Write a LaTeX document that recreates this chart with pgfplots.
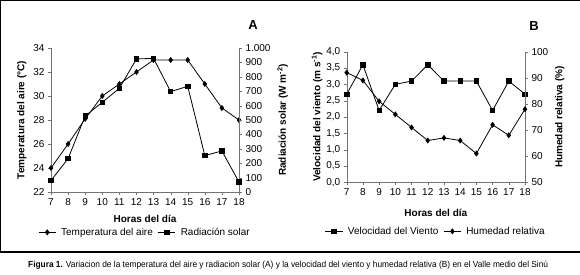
\documentclass[border=0pt]{standalone}
\usepackage{pgfplots}
\pgfplotsset{compat=1.18}
\usepackage{fontspec}
\setmainfont{Liberation Sans}
\usepackage{graphicx}

\pgfplotsset{
  panel/.style={
    scale only axis,
    xmin=7, xmax=18, xtick={7,...,18},
    tick align=outside, major tick length=3pt,
    axis line style={black!55}, tick style={black!55},
    tick label style={font=\fontsize{10}{12}\selectfont},
    label style={font=\fontsize{10}{12}\selectfont\bfseries},
    /pgf/number format/assume math mode=true,
  },
  linea/.style={black, line width=0.8pt},
  rombo/.style={linea, mark=diamond*, mark size=2.4pt, mark options={solid, fill=black}},
  cuadro/.style={linea, mark=square*, mark size=2.2pt, mark options={solid, fill=black}},
}

\begin{document}
\begin{tikzpicture}
\useasboundingbox (0,0) rectangle (580pt,-275pt);
\draw[line width=1.3pt] (580pt,-0.6pt) -- (0.6pt,-0.6pt) -- (0.6pt,-252pt) -- (580pt,-252pt);

% ---- panel A
\begin{axis}[panel, at={(51pt,-192pt)}, anchor=south west,
  width=188pt, height=144pt,
  axis x line*=bottom, axis y line*=left,
  ymin=22, ymax=34, ytick={22,24,...,34},
  xlabel={Horas del día}, ylabel={Temperatura del aire (°C)},
  xlabel style={yshift=-3pt},
  legend style={at={(0.5,-0.22)}, anchor=north, draw=none, legend columns=2,
    font=\fontsize{10}{12}\selectfont, column sep=3pt},
]
\addplot[rombo] coordinates {(7,24) (8,26) (9,28.1) (10,30) (11,31) (12,32) (13,33) (14,33) (15,33) (16,31) (17,29) (18,28)};
\addlegendentry{Temperatura del aire}
\addlegendimage{cuadro}
\addlegendentry{Radiación solar}
\end{axis}
\begin{axis}[panel, at={(51pt,-192pt)}, anchor=south west,
  width=188pt, height=144pt,
  axis x line=none, axis y line*=right,
  ymin=0, ymax=1000, ytick={0,100,...,1000},
  yticklabels={0,100,200,300,400,500,600,700,800,900,1.000},
  ylabel={Radiación solar (W m\textsuperscript{-2})},
]
\addplot[cuadro] coordinates {(7,80) (8,232) (9,528) (10,623) (11,720) (12,924) (13,928) (14,697) (15,734) (16,253) (17,285) (18,69)};
\end{axis}
\node[font=\fontsize{13}{15}\selectfont\bfseries] at (253pt,-25pt) {A};

% ---- panel B
\begin{axis}[panel, at={(346.7pt,-182.3pt)}, anchor=south west,
  width=178.3pt, height=130.6pt,
  axis x line*=bottom, axis y line*=left,
  ymin=0, ymax=4, ytick={0,0.5,...,4},
  yticklabel style={/pgf/number format/.cd, fixed, fixed zerofill, precision=1, use comma},
  xlabel={Horas del día}, ylabel={Velocidad del viento (m s\textsuperscript{-1})},
  ylabel shift=-3pt,
  xlabel style={yshift=-6pt},
  legend style={at={(0.5,-0.31)}, anchor=north, draw=none, legend columns=2,
    font=\fontsize{10}{12}\selectfont, column sep=3pt},
]
\addplot[cuadro] coordinates {(7,2.7) (8,3.6) (9,2.2) (10,3.0) (11,3.1) (12,3.6) (13,3.1) (14,3.1) (15,3.1) (16,2.2) (17,3.1) (18,2.7)};
\addlegendentry{Velocidad del Viento}
\addlegendimage{rombo}
\addlegendentry{Humedad relativa}
\end{axis}
\begin{axis}[panel, at={(346.7pt,-182.3pt)}, anchor=south west,
  width=178.3pt, height=130.6pt,
  axis x line=none, axis y line*=right,
  ymin=50, ymax=100, ytick={50,60,...,100},
  ylabel={Humedad relativa (\%)},
]
\addplot[rombo] coordinates {(7,92) (8,89) (9,81) (10,76) (11,71) (12,66) (13,67) (14,66) (15,61) (16,72) (17,68) (18,78)};
\end{axis}
\node[font=\fontsize{13}{15}\selectfont\bfseries] at (534pt,-26pt) {B};

% ---- caption
\node[anchor=west, inner sep=0pt] at (28pt,-265pt)
  {\resizebox{520pt}{6.5pt}{\textbf{Figura 1.} Variacion de la temperatura del aire y radiacion solar (A) y la velocidad del viento y humedad relativa (B) en el Valle medio del Sinú}};
\end{tikzpicture}
\end{document}
